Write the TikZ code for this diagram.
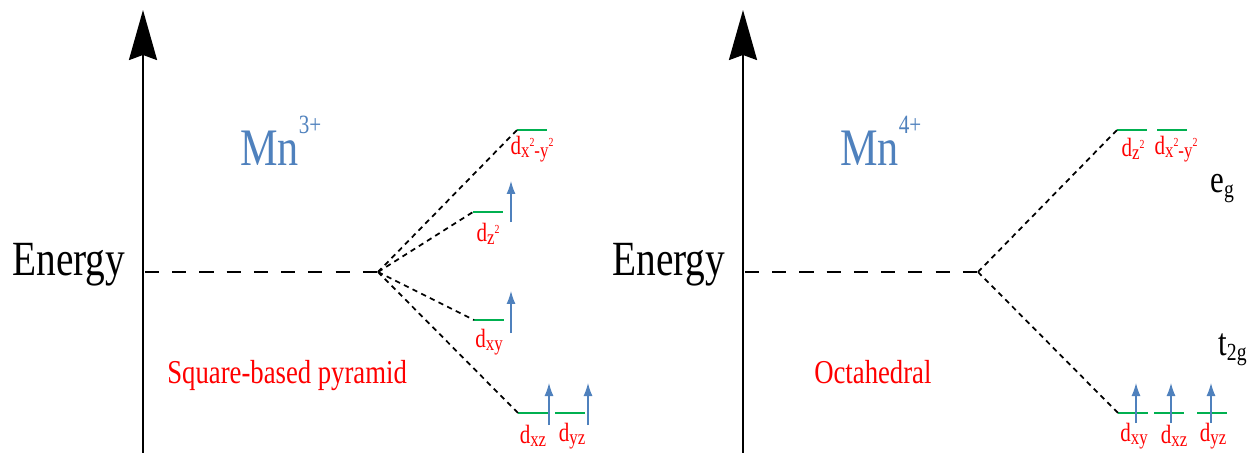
\documentclass[tikz,border=0pt]{standalone}
\usepackage{fontspec}
\setmainfont[FakeStretch=0.8]{Liberation Serif}
\usetikzlibrary{arrows.meta}
\definecolor{levelgreen}{HTML}{00B050}
\definecolor{spinblue}{HTML}{4F81BD}
\newcommand{\orbsub}[1]{d\raisebox{-1.5pt}{\fontsize{12}{12}\selectfont #1}}
\newcommand{\sqr}{\raisebox{6pt}{\fontsize{7}{7}\selectfont 2}}

\begin{document}
\begin{tikzpicture}[x=0.02cm,y=-0.02cm,
  axis/.style={line width=1.4pt,-{Stealth[length=1cm,width=0.56cm,inset=0.1cm]}},
  base/.style={line width=1.1pt,dash pattern=on 8pt off 7.5pt},
  split/.style={line width=1pt,dash pattern=on 3pt off 2.5pt},
  level/.style={line width=1.7pt,draw=levelgreen},
  spin/.style={line width=0.7pt,draw=spinblue,-{Latex[length=0.26cm,width=0.18cm]}},
  orb/.style={text=red,font=\fontsize{15}{15}\selectfont,inner sep=0pt},
  energy/.style={anchor=base west,inner sep=0pt,font=\fontsize{28}{28}\selectfont},
  ion/.style={anchor=base west,inner sep=0pt,text=spinblue,font=\fontsize{30}{30}\selectfont},
  geom/.style={anchor=base west,inner sep=0pt,text=red,font=\fontsize{19}{19}\selectfont},
  group/.style={anchor=base west,inner sep=0pt,font=\fontsize{22}{22}\selectfont}]
  \useasboundingbox (0,0) rectangle (1255,453);

  % Mn3+, square-based pyramid
  \coordinate (ax1) at (143,453);
  \coordinate (top1) at (143,10);
  \draw[axis] (ax1) -- (top1);
  \node[energy] (en1) at (12,275) {Energy};
  \node[ion] (mn3) at (240,165) {Mn\raisebox{18pt}{\fontsize{15}{15}\selectfont 3+}};
  \node[geom] (pyr) at (167,383) {Square-based pyramid};
  \coordinate (b1) at (145,272);
  \coordinate (s1) at (378,272);
  \draw[base] (b1) -- (s1);
  \coordinate (x2y2) at (517,130);
  \coordinate (z2) at (473,212);
  \coordinate (xy) at (474,320);
  \coordinate (xz) at (518,413);
  \coordinate (yz) at (555,413);
  \foreach \lv in {x2y2,z2,xy,xz,yz}
    \draw[level] (\lv) -- ++(30,0);
  \foreach \lv in {x2y2,z2,xy,xz}
    \draw[split] (s1) -- (\lv);
  \node[orb] (lx2y2) at (532,149) {d\raisebox{-1.5pt}{\fontsize{12}{12}\selectfont x\sqr-y\sqr}};
  \node[orb] (lz2) at (488,234) {d\raisebox{-1.5pt}{\fontsize{12}{12}\selectfont z\sqr}};
  \node[orb] (lxy) at (489,342) {\orbsub{xy}};
  \node[orb] (lxz) at (533,436) {\orbsub{xz}};
  \node[orb] (lyz) at (572,436) {\orbsub{yz}};
  \draw[spin] (511,222) -- (511,181);
  \draw[spin] (511,333) -- (511,291);
  \draw[spin] (549,425) -- (549,383);
  \draw[spin] (588,425) -- (588,383);

  % Mn4+, octahedral
  \coordinate (ax2) at (743,453);
  \coordinate (top2) at (743,10);
  \draw[axis] (ax2) -- (top2);
  \node[energy] (en2) at (612,275) {Energy};
  \node[ion] (mn4) at (840,165) {Mn\raisebox{18pt}{\fontsize{15}{15}\selectfont 4+}};
  \node[geom] (oct) at (814,383) {Octahedral};
  \coordinate (b2) at (745,272);
  \coordinate (s2) at (978,272);
  \draw[base] (b2) -- (s2);
  \coordinate (ez2) at (1117,130);
  \coordinate (ex2y2) at (1157,130);
  \coordinate (txy) at (1118,413);
  \coordinate (txz) at (1154,413);
  \coordinate (tyz) at (1197,413);
  \foreach \lv in {ez2,ex2y2,txy,txz,tyz}
    \draw[level] (\lv) -- ++(30,0);
  \draw[split] (s2) -- (ez2);
  \draw[split] (s2) -- (txy);
  \node[orb] (lez2) at (1133,149) {d\raisebox{-1.5pt}{\fontsize{12}{12}\selectfont z\sqr}};
  \node[orb] (lex2y2) at (1176,149) {d\raisebox{-1.5pt}{\fontsize{12}{12}\selectfont x\sqr-y\sqr}};
  \node[orb] (ltxy) at (1134,436) {\orbsub{xy}};
  \node[orb] (ltxz) at (1174,436) {\orbsub{xz}};
  \node[orb] (ltyz) at (1213,436) {\orbsub{yz}};
  \draw[spin] (1136,423) -- (1136,383);
  \draw[spin] (1171,423) -- (1171,383);
  \draw[spin] (1211,423) -- (1211,383);
  \node[group] (eg) at (1210,192) {e\raisebox{-3pt}{\fontsize{14}{14}\selectfont g}};
  \node[group] (t2g) at (1218,355) {t\raisebox{-3pt}{\fontsize{14}{14}\selectfont 2g}};
\end{tikzpicture}
\end{document}
